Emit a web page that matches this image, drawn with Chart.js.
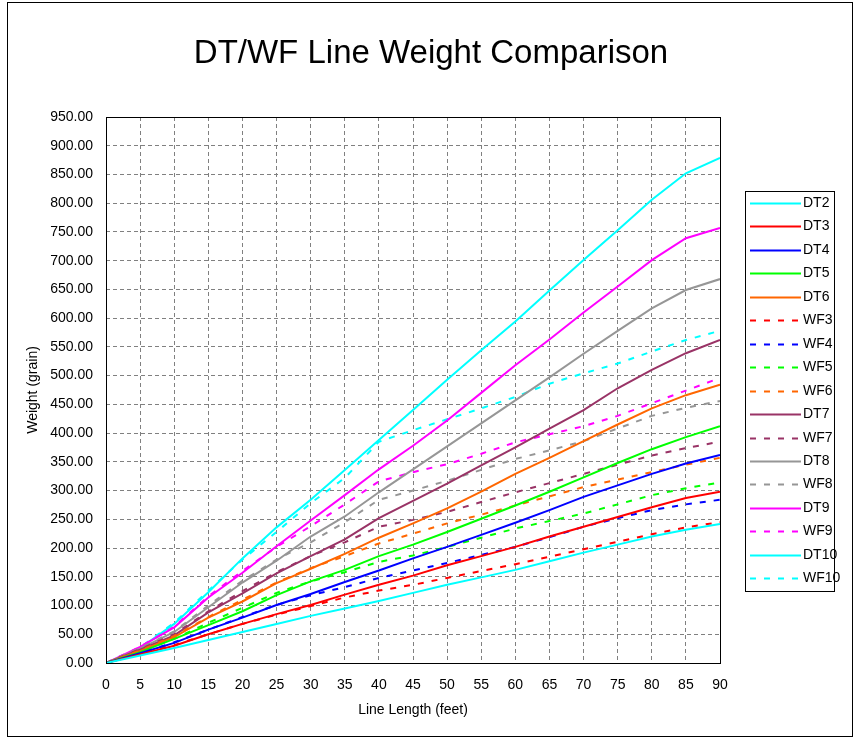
<!DOCTYPE html>
<html>
<head>
<meta charset="utf-8">
<title>DT/WF Line Weight Comparison</title>
<script src="https://cdn.jsdelivr.net/npm/chart.js@4"></script>
<style>
  html, body { margin: 0; padding: 0; background: #fff; }
  canvas { display: block; }
</style>
</head>
<body>
<canvas id="lineChart" width="862" height="745"></canvas>
<script>
// line length in feet, every 5 ft
var feet = [0, 5, 10, 15, 20, 25, 30, 35, 40, 45, 50, 55, 60, 65, 70, 75, 80, 85, 90];
var yTicks = [0, 50, 100, 150, 200, 250, 300, 350, 400, 450, 500, 550, 600, 650, 700, 750, 800, 850, 900, 950];

// weight in grains
var dt2  = [0, 13, 26, 40, 54, 68, 82, 95, 108, 122, 136, 149, 162, 177, 192, 206, 220, 232, 242];
var dt3  = [0, 15, 30, 50, 68, 85, 101, 119, 136, 152, 170, 186, 202, 220, 237, 254, 271, 287, 298];
var dt4  = [0, 17, 35, 58, 79, 101, 120, 141, 161, 182, 202, 223, 244, 266, 289, 309, 329, 347, 362];
var dt5  = [0, 19, 42, 66, 90, 118, 142, 162, 186, 206, 228, 251, 274, 298, 323, 348, 372, 393, 412];
var dt6  = [0, 21, 45, 79, 107, 139, 164, 190, 218, 243, 269, 298, 329, 357, 386, 415, 443, 466, 484];
var wf3  = [0, 16, 31, 50, 68, 84, 99, 114, 126, 136, 148, 160, 172, 185, 198, 211, 224, 236, 245];
var wf4  = [0, 17, 36, 58, 80, 101, 118, 132, 148, 161, 174, 188, 202, 219, 237, 252, 266, 276, 284];
var wf5  = [0, 20, 42, 70, 96, 122, 142, 158, 176, 187, 202, 218, 234, 247, 260, 276, 292, 304, 314];
var wf6  = [0, 22, 47, 80, 110, 140, 165, 186, 208, 225, 243, 258, 274, 290, 306, 319, 332, 345, 357];
var dt7  = [0, 23, 48, 88, 121, 156, 186, 215, 252, 282, 312, 344, 375, 408, 440, 478, 510, 539, 562];
var wf7  = [0, 24, 50, 90, 125, 158, 186, 210, 237, 249, 263, 280, 297, 313, 329, 345, 361, 374, 385];
var dt8  = [0, 25, 54, 97, 140, 178, 220, 255, 297, 337, 377, 417, 457, 497, 538, 578, 617, 649, 668];
var wf8  = [0, 26, 55, 100, 143, 180, 210, 245, 284, 300, 317, 336, 355, 370, 386, 408, 430, 444, 456];
var dt9  = [0, 28, 62, 114, 157, 203, 248, 292, 337, 378, 422, 470, 518, 563, 610, 655, 701, 739, 757];
var wf9  = [0, 28, 63, 116, 160, 202, 238, 276, 316, 332, 346, 364, 384, 398, 412, 430, 452, 474, 496];
var dt10 = [0, 26, 68, 123, 182, 236, 284, 336, 388, 440, 493, 544, 594, 648, 701, 753, 806, 852, 879];
var wf10 = [0, 27, 70, 126, 180, 228, 278, 322, 385, 405, 424, 443, 463, 486, 504, 521, 542, 562, 578];

var font = "'Liberation Sans', Arial, sans-serif";

function pts(arr) {
    return feet.map(function (f, i) { return { x: f, y: arr[i] }; });
}

function series(label, arr, color, dashed) {
    return {
        label: label,
        data: pts(arr),
        borderColor: color,
        backgroundColor: color,
        borderWidth: 2,
        borderDash: dashed ? [6, 8] : [],
        pointRadius: 0,
        tension: 0,
        fill: false
    };
}

var decor = {
    id: "decor",
    afterDraw: function (chart) {
        var ctx = chart.ctx;
        var area = chart.chartArea;
        ctx.save();
        // outer frame
        ctx.strokeStyle = "#000";
        ctx.lineWidth = 1;
        ctx.setLineDash([]);
        ctx.strokeRect(7.5, 2.5, 845, 734);
        // plot frame
        ctx.strokeRect(Math.round(area.left) + 0.5, Math.round(area.top) + 0.5,
            Math.round(area.right - area.left), Math.round(area.bottom - area.top));
        // title
        ctx.fillStyle = "#000";
        ctx.font = "33px " + font;
        ctx.textAlign = "center";
        ctx.textBaseline = "alphabetic";
        ctx.fillText("DT/WF Line Weight Comparison", 431, 63);
        // legend
        ctx.fillStyle = "#fff";
        ctx.fillRect(745.5, 191.5, 89, 400);
        ctx.strokeRect(745.5, 191.5, 89, 400);
        ctx.font = "14px " + font;
        ctx.textAlign = "left";
        ctx.textBaseline = "middle";
        var sets = chart.data.datasets;
        for (var i = 0; i < sets.length; i++) {
            var y = Math.round(203 + i * 23.45) + 0.5;
            ctx.strokeStyle = sets[i].borderColor;
            ctx.lineWidth = 2;
            ctx.setLineDash(sets[i].borderDash);
            ctx.beginPath();
            ctx.moveTo(750, y);
            ctx.lineTo(801, y);
            ctx.stroke();
            ctx.fillStyle = "#000";
            ctx.fillText(sets[i].label, 803, y);
        }
        ctx.restore();
    }
};

new Chart("lineChart", {
    type: "line",
    data: {
        datasets: [
            series("DT2", dt2, "#00FFFF", false),
            series("DT3", dt3, "#FF0000", false),
            series("DT4", dt4, "#0000FF", false),
            series("DT5", dt5, "#00FF00", false),
            series("DT6", dt6, "#FF6600", false),
            series("WF3", wf3, "#FF0000", true),
            series("WF4", wf4, "#0000FF", true),
            series("WF5", wf5, "#00FF00", true),
            series("WF6", wf6, "#FF6600", true),
            series("DT7", dt7, "#993366", false),
            series("WF7", wf7, "#993366", true),
            series("DT8", dt8, "#969696", false),
            series("WF8", wf8, "#969696", true),
            series("DT9", dt9, "#FF00FF", false),
            series("WF9", wf9, "#FF00FF", true),
            series("DT10", dt10, "#00FFFF", false),
            series("WF10", wf10, "#00FFFF", true)
        ]
    },
    options: {
        responsive: false,
        animation: false,
        layout: { padding: { top: 117, right: 142, left: 0, bottom: 0 } },
        plugins: {
            legend: { display: false },
            tooltip: { enabled: false }
        },
        scales: {
            x: {
                type: "linear",
                min: feet[0],
                max: feet[feet.length - 1],
                afterFit: function (s) { s.height = 82; },
                afterBuildTicks: function (s) { s.ticks = feet.map(function (v) { return { value: v }; }); },
                ticks: {
                    autoSkip: false,
                    maxRotation: 0,
                    padding: 14,
                    color: "#000",
                    font: { family: font, size: 14 }
                },
                grid: { color: "#808080", lineWidth: 1, drawTicks: false },
                border: { display: false, dash: [4, 3] },
                title: {
                    display: true,
                    text: "Line Length (feet)",
                    color: "#000",
                    font: { family: font, size: 14 },
                    padding: { top: 0, bottom: 26 }
                }
            },
            y: {
                min: yTicks[0],
                max: yTicks[yTicks.length - 1],
                afterFit: function (s) { s.width = 106; },
                afterBuildTicks: function (s) { s.ticks = yTicks.map(function (v) { return { value: v }; }); },
                ticks: {
                    autoSkip: false,
                    padding: 13,
                    color: "#000",
                    font: { family: font, size: 14 },
                    callback: function (v) { return Number(v).toFixed(2); }
                },
                grid: { color: "#808080", lineWidth: 1, drawTicks: false },
                border: { display: false, dash: [4, 3] },
                title: {
                    display: true,
                    text: "Weight (grain)",
                    color: "#000",
                    font: { family: font, size: 14 },
                    padding: { top: 25, bottom: 0 }
                }
            }
        }
    },
    plugins: [decor]
});
</script>
</body>
</html>
